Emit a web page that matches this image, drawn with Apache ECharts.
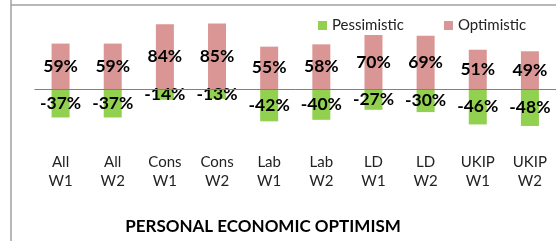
<!DOCTYPE html>
<html>
<head>
<meta charset="utf-8">
<script src="https://cdn.jsdelivr.net/npm/echarts@6/dist/echarts.min.js"></script>
<style>
html,body{margin:0;padding:0;background:#fff;}
#c{width:556px;height:241px;}
</style>
</head>
<body>
<div id="c"></div>
<script>
var categories = ['All\nW1','All\nW2','Cons\nW1','Cons\nW2','Lab\nW1','Lab\nW2','LD\nW1','LD\nW2','UKIP\nW1','UKIP\nW2'];
var pessimistic = [-37,-37,-14,-13,-42,-40,-27,-30,-46,-48];
var optimistic = [59,59,84,85,55,58,70,69,51,49];
var titleText = 'PERSONAL ECONOMIC OPTIMISM';

var FONT = 'Lato, "Open Sans", sans-serif';
var chart = echarts.init(document.getElementById('c'), null, {renderer:'canvas'});
var lbl = {show:true, position:'inside', formatter:function(p){return p.value+'%';},
  color:'#000', fontFamily:FONT, fontWeight:'bold', fontSize:17.5};
chart.setOption({
  animation:false,
  backgroundColor:'#fff',
  title:{text:titleText, left:263, textAlign:'center', top:218, padding:0,
    textStyle:{fontFamily:FONT, fontWeight:'bold', fontSize:17, color:'#000'}},
  legend:{left:318, top:18, padding:0, itemWidth:9, itemHeight:9, itemGap:40, icon:'rect',
    textStyle:{fontFamily:FONT, fontSize:15, color:'#222'},
    data:['Pessimistic','Optimistic']},
  grid:{left:34.5, width:526, top:12, height:134.75},
  xAxis:{type:'category', data:categories, axisLine:{show:false}, axisTick:{show:false},
    axisLabel:{fontFamily:FONT, fontSize:15, color:'#222', lineHeight:19, margin:6, interval:0}},
  yAxis:{type:'value', min:-75, max:100, show:false, splitLine:{show:false}},
  graphic:[
    {type:'line', shape:{x1:11, y1:5, x2:556, y2:5}, style:{stroke:'#a0a0a0', lineWidth:1.5}},
    {type:'line', shape:{x1:11, y1:0, x2:11, y2:241}, style:{stroke:'#a0a0a0', lineWidth:1.5}}
  ],
  series:[
    {name:'Pessimistic', type:'bar', stack:'s', data:pessimistic, barWidth:18,
      itemStyle:{color:'#92D050'}, label:lbl,
      markLine:{silent:true, symbol:'none', label:{show:false},
        lineStyle:{color:'#808080', width:1, type:'solid'}, data:[{yAxis:0}]}},
    {name:'Optimistic', type:'bar', stack:'s', data:optimistic, barWidth:18,
      itemStyle:{color:'#DA9694'}, label:lbl}
  ]
});
</script>
</body>
</html>
